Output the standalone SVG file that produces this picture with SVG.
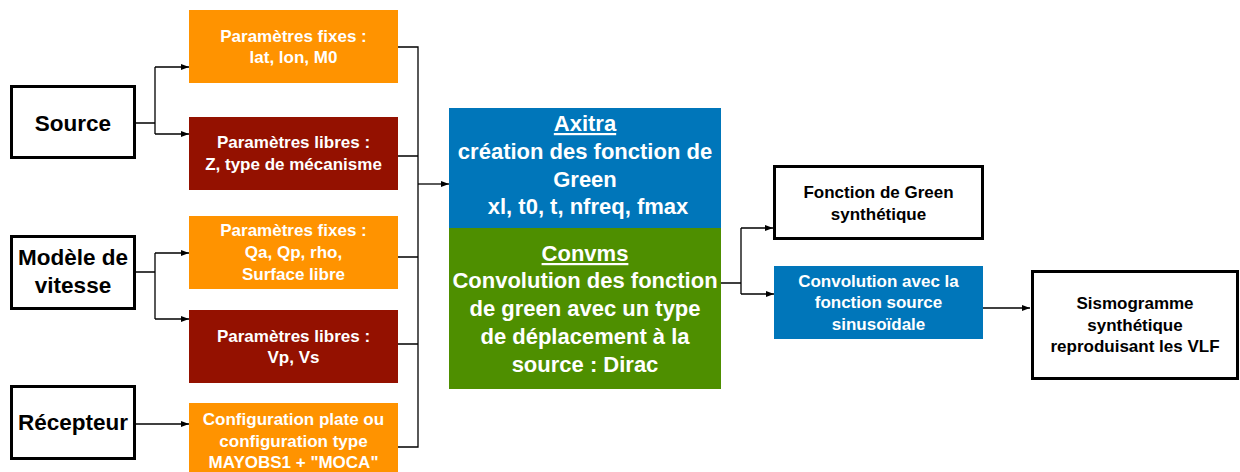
<svg xmlns="http://www.w3.org/2000/svg" width="1240" height="472" viewBox="0 0 1240 472">
<style>
text{font-family:"Liberation Sans",Arial,sans-serif;font-weight:bold;text-anchor:middle}
.wb{fill:#fff;stroke:#000;stroke-width:3}
.t{fill:#000}
.w{fill:#fff}
.big{font-size:22px}
.mid{font-size:17px}
.ttl{font-size:22.5px}
.or{fill:#FF9300}
.rd{fill:#941100}
.bl{fill:#0076BA}
.gr{fill:#4E8F00}
.c{fill:none;stroke:#000;stroke-width:1.3}
</style>
<defs>
<marker id="ah" markerWidth="8" markerHeight="6" refX="8" refY="3" orient="auto" markerUnits="userSpaceOnUse">
<path d="M0,0 L8,3 L0,6 z" fill="#000"/>
</marker>
</defs>
<g id="connectors">
<path class="c" d="M136,123 H155 M155,67 V134 M155,67 H189" marker-end="url(#ah)"/>
<path class="c" d="M155,134 H189" marker-end="url(#ah)"/>
<path class="c" d="M136,272 H155 M155,253 V319 M155,253 H189" marker-end="url(#ah)"/>
<path class="c" d="M155,319 H189" marker-end="url(#ah)"/>
<path class="c" d="M136,424 H189" marker-end="url(#ah)"/>
<path class="c" d="M398,47 H418 V447 H398 M398,156 H418 M398,257 H418 M398,344 H418"/>
<path class="c" d="M418,184 H449" marker-end="url(#ah)"/>
<path class="c" d="M721,283 H741 M741,228 V294 M741,228 H773" marker-end="url(#ah)"/>
<path class="c" d="M741,294 H774" marker-end="url(#ah)"/>
<path class="c" d="M983,308 H1030" marker-end="url(#ah)"/>
</g>
<g id="source">
<rect class="wb" x="11.5" y="86.5" width="123" height="71"/>
<text class="t ttl" x="73" y="131">Source</text>
</g>
<g id="fixes1">
<rect class="or" x="189" y="10" width="209" height="73"/>
<text class="w mid" x="293.5" y="42">Paramètres fixes :</text>
<text class="w mid" x="293.5" y="63">lat, lon, M0</text>
</g>
<g id="libres1">
<rect class="rd" x="189" y="117" width="209" height="73"/>
<text class="w mid" x="293.5" y="148">Paramètres libres :</text>
<text class="w mid" x="293.5" y="170">Z, type de mécanisme</text>
</g>
<g id="modele">
<rect class="wb" x="11.5" y="236.5" width="123" height="72"/>
<text class="t ttl" x="73" y="265">Modèle de</text>
<text class="t ttl" x="73" y="293">vitesse</text>
</g>
<g id="fixes2">
<rect class="or" x="189" y="216" width="209" height="73"/>
<text class="w mid" x="293.5" y="236">Paramètres fixes :</text>
<text class="w mid" x="293.5" y="258">Qa, Qp, rho,</text>
<text class="w mid" x="293.5" y="280">Surface libre</text>
</g>
<g id="libres2">
<rect class="rd" x="189" y="310" width="209" height="73"/>
<text class="w mid" x="293.5" y="342">Paramètres libres :</text>
<text class="w mid" x="293.5" y="363">Vp, Vs</text>
</g>
<g id="recepteur">
<rect class="wb" x="11.5" y="386.5" width="123" height="72"/>
<text class="t ttl" x="73" y="430">Récepteur</text>
</g>
<g id="config">
<rect class="or" x="189" y="403" width="209" height="69"/>
<text class="w mid" x="293.5" y="425">Configuration plate ou</text>
<text class="w mid" x="293.5" y="447">configuration type</text>
<text class="w mid" x="293.5" y="468">MAYOBS1 + "MOCA"</text>
</g>
<g id="axitra">
<rect class="bl" x="449" y="108" width="272" height="120"/>
<text class="w big" x="585" y="131" text-decoration="underline">Axitra</text>
<text class="w big" x="585" y="159">création des fonction de</text>
<text class="w big" x="585" y="187">Green</text>
<text class="w big" x="588" y="214">xl, t0, t, nfreq, fmax</text>
</g>
<g id="convms">
<rect class="gr" x="449" y="228" width="272" height="161"/>
<text class="w big" x="585" y="261" text-decoration="underline">Convms</text>
<text class="w big" x="585" y="288">Convolution des fonction</text>
<text class="w big" x="585" y="316">de green avec un type</text>
<text class="w big" x="585" y="344">de déplacement à la</text>
<text class="w big" x="585" y="372">source : Dirac</text>
</g>
<g id="green">
<rect class="wb" x="774.5" y="166.5" width="208" height="72"/>
<text class="t mid" x="878.5" y="198">Fonction de Green</text>
<text class="t mid" x="878.5" y="220">synthétique</text>
</g>
<g id="convolution">
<rect class="bl" x="774" y="266" width="209" height="73"/>
<text class="w mid" x="878.5" y="287">Convolution avec la</text>
<text class="w mid" x="878.5" y="308">fonction source</text>
<text class="w mid" x="878.5" y="330">sinusoïdale</text>
</g>
<g id="sismo">
<rect class="wb" x="1032.5" y="271.5" width="205" height="107"/>
<text class="t mid" x="1135" y="309">Sismogramme</text>
<text class="t mid" x="1135" y="331">synthétique</text>
<text class="t mid" x="1135" y="352">reproduisant les VLF</text>
</g>
</svg>
